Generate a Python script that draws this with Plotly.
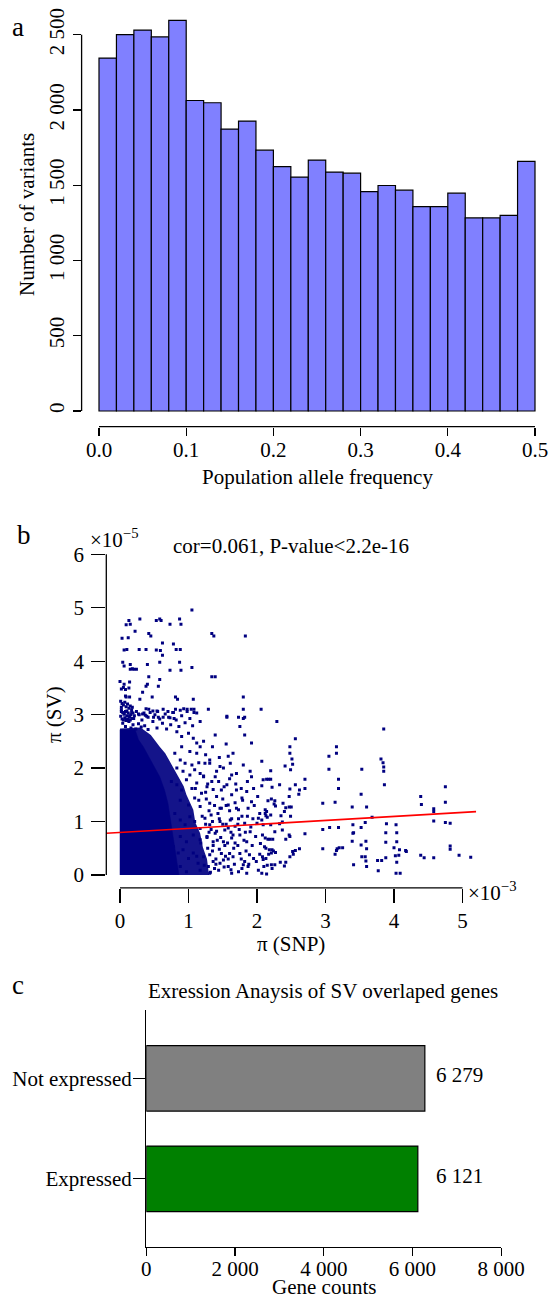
import plotly.graph_objects as go

# ---------------- Panel a : histogram of population allele frequency ----------------
bin_starts = [0.00, 0.02, 0.04, 0.06, 0.08, 0.10, 0.12, 0.14, 0.16, 0.18, 0.20, 0.22, 0.24,
              0.26, 0.28, 0.30, 0.32, 0.34, 0.36, 0.38, 0.40, 0.42, 0.44, 0.46, 0.48]
bin_width = 0.02
variant_counts = [2345, 2500, 2531, 2485, 2595, 2063, 2048, 1873, 1926, 1733, 1624, 1554, 1667,
                  1587, 1580, 1458, 1498, 1467, 1358, 1358, 1447, 1283, 1283, 1299, 1658]
hist_xticks = [0.0, 0.1, 0.2, 0.3, 0.4, 0.5]
hist_xticklabels = ["0.0", "0.1", "0.2", "0.3", "0.4", "0.5"]
hist_yticks = [0, 500, 1000, 1500, 2000, 2500]
hist_yticklabels = ["0", "500", "1 000", "1 500", "2 000", "2 500"]

# ---------------- Panel b : pi(SNP) (x 1e-3) vs pi(SV) (x 1e-5) ----------------
# saturated core of the point cloud (outline)
core_x = [0.0, 0.0, 0.22, 0.27, 0.34, 0.42, 0.51, 0.58, 0.65, 0.70, 0.73, 0.76, 0.79, 0.83, 0.86]
core_y = [0.0, 2.72, 2.72, 2.53, 2.40, 2.22, 2.00, 1.84, 1.59, 1.34, 1.09, 0.84, 0.59, 0.34, 0.0]
# very dense (nearly filled) zone around the core
halo_x = [0.0, 0.0, 0.30, 0.45, 0.58, 0.66, 0.76, 0.82, 0.93, 0.97, 1.07, 1.10, 1.17, 1.21, 1.27, 1.30]
halo_y = [0.0, 2.74, 2.76, 2.62, 2.40, 2.28, 2.05, 1.92, 1.66, 1.50, 1.22, 0.98, 0.78, 0.52, 0.30, 0.0]

# individual points
upper_x = [1.05, 0.29, 0.13, 0.09, 0.15, 0.53, 0.58, 0.60, 0.73, 0.87, 0.89, 0.22, 0.42, 0.45, 0.03,
           0.12, 1.34, 1.37, 1.83, 0.62, 0.78, 0.06, 0.10, 0.28, 0.38, 0.53, 0.59, 0.62, 0.82, 0.88,
           0.04, 0.06, 0.15, 0.40, 0.58, 0.87, 0.15, 0.18, 0.20, 0.24, 0.73, 0.89, 1.05, 0.42, 0.58,
           1.34, 1.39, 0.00, 0.06, 0.14, 0.38, 0.40, 0.56, 0.02, 0.05, 0.08, 0.13, 0.33, 0.08, 0.09,
           0.14, 0.47, 0.29, 0.81, 0.84, 1.07, 1.80, 1.29, 1.80, 2.06, 1.56, 1.73, 1.82]
upper_y = [4.96, 4.79, 4.76, 4.68, 4.69, 4.76, 4.79, 4.76, 4.69, 4.79, 4.69, 4.56, 4.52, 4.47, 4.43,
           4.44, 4.52, 4.47, 4.47, 4.34, 4.32, 4.21, 4.22, 4.22, 4.22, 4.21, 4.20, 4.11, 4.22, 4.22,
           3.98, 3.91, 3.94, 3.94, 3.98, 3.98, 3.85, 3.86, 3.85, 3.85, 3.83, 3.83, 3.88, 3.71, 3.66,
           3.71, 3.71, 3.62, 3.57, 3.61, 3.53, 3.57, 3.53, 3.48, 3.51, 3.47, 3.50, 3.42, 3.35, 3.33,
           3.33, 3.33, 3.29, 3.33, 3.29, 3.29, 3.33, 3.10, 3.10, 3.10, 2.95, 2.95, 2.95]

band_x = [0.38, 0.42, 0.48, 0.54, 0.63, 0.70, 0.77, 0.81, 0.88, 0.93, 0.98, 1.04, 1.08, 1.08,
          0.27, 0.33, 0.37, 0.41, 0.49, 0.56, 0.63, 0.73, 0.79,
          0.01, 0.03, 0.05, 0.07, 0.09, 0.11, 0.13, 0.15, 0.17, 0.18, 0.02, 0.04, 0.06, 0.08, 0.10,
          0.12, 0.14, 0.16, 0.18, 0.01, 0.03, 0.05, 0.07, 0.09, 0.11, 0.13, 0.15, 0.02, 0.19, 0.21,
          0.02, 0.06, 0.10, 0.14, 0.17, 0.20, 0.24, 0.28, 0.32, 0.35, 0.39, 0.44, 0.48, 0.51, 0.55,
          0.58, 0.62, 0.66, 0.71, 0.74, 0.78, 0.82, 0.86, 0.90, 0.95, 0.98, 1.02, 1.06, 1.12, 1.17,
          0.04, 0.08, 0.12, 0.16, 0.19, 0.23, 0.27, 0.31, 0.36, 0.41, 0.54, 0.68]
band_y = [3.11, 3.10, 3.07, 3.07, 3.10, 3.06, 3.04, 3.10, 3.08, 3.11, 3.10, 3.10, 3.10, 3.04,
          3.01, 3.01, 2.99, 2.95, 2.95, 2.95, 2.95, 2.94, 2.93,
          3.25, 3.21, 3.18, 3.23, 3.15, 3.20, 3.12, 3.16, 3.09, 3.14, 3.09, 3.04, 3.01, 3.06, 2.98,
          3.03, 2.95, 3.00, 2.93, 2.97, 2.92, 2.90, 2.94, 2.89, 2.92, 2.87, 2.90, 3.14, 3.03, 2.98,
          3.06, 3.01, 3.07, 2.98, 3.04, 2.93, 3.06, 3.00, 2.90, 3.03, 2.97, 3.04, 2.87, 3.00, 3.06,
          2.92, 2.84, 3.01, 2.95, 2.81, 3.04, 2.90, 2.78, 2.98, 2.85, 3.06, 2.93, 2.79, 3.03, 2.87,
          2.84, 2.78, 2.89, 2.75, 2.81, 2.73, 2.83, 2.77, 2.79, 2.72, 2.75, 2.73]

mid_x = [0.83, 0.90, 1.00, 1.07, 1.12, 1.17, 1.22, 0.90, 1.02, 1.12, 1.39, 1.56, 1.82, 1.92, 1.65,
         1.31, 1.46, 1.58, 1.80, 1.75,
         0.80, 0.88, 0.95, 1.05, 1.09, 1.17, 1.24, 1.31, 1.41, 1.51, 1.61, 1.70, 1.80, 1.90, 0.92,
         1.02, 1.22, 1.39, 1.63, 1.92, 0.83,
         0.75, 0.83, 0.90, 0.97, 1.05, 1.12, 1.19, 1.27, 1.34, 1.41, 1.48, 1.56, 1.63, 1.70, 1.78,
         1.85, 1.92, 0.88, 1.00, 1.09, 1.17, 1.31, 1.46, 1.58, 1.73, 1.87,
         0.80, 0.88, 0.95, 1.02, 1.09, 1.17, 1.24, 1.31, 1.39, 1.46, 1.53, 1.61, 1.68, 1.75, 1.82,
         1.90, 0.88, 0.97, 1.07, 1.17, 1.27, 1.36, 1.51, 1.63, 1.85,
         0.78, 0.85, 0.92, 1.00, 1.07, 1.14, 1.22, 1.29, 1.36, 1.44, 1.51, 1.58, 1.65, 1.73, 1.80,
         1.87, 1.95, 0.88, 0.97, 1.17, 1.31, 1.46, 1.63, 1.85,
         1.10, 1.15, 1.20, 1.25, 1.28, 1.30, 1.33, 1.35, 1.38, 1.40, 1.42, 1.45, 1.48, 1.50, 1.53,
         1.55, 1.58, 1.60, 1.62, 1.66, 1.68, 1.72, 1.75, 1.78, 1.82, 1.12, 1.18, 1.23, 1.26, 1.32]
mid_y = [2.68, 2.59, 2.65, 2.56, 2.47, 2.40, 2.50, 2.40, 2.31, 2.28, 2.62, 2.97, 2.62, 2.47, 2.28,
         2.09, 2.03, 2.22, 2.93, 2.78,
         2.28, 2.15, 2.09, 2.06, 1.97, 1.90, 2.09, 2.15, 1.94, 2.00, 2.09, 1.90, 2.06, 1.94, 1.94,
         1.87, 1.84, 1.84, 1.87, 1.84, 2.00,
         1.75, 1.69, 1.59, 1.78, 1.62, 1.72, 1.53, 1.65, 1.75, 1.47, 1.59, 1.69, 1.50, 1.59, 1.44,
         1.56, 1.37, 1.40, 1.31, 1.44, 1.28, 1.34, 1.25, 1.31, 1.22, 1.25,
         1.15, 1.03, 0.94, 1.09, 1.00, 0.87, 1.06, 0.94, 0.78, 1.00, 0.84, 1.03, 0.91, 0.75, 0.97,
         0.81, 0.72, 0.62, 0.75, 0.66, 0.72, 0.62, 0.62, 0.69, 0.62,
         0.53, 0.41, 0.47, 0.31, 0.41, 0.22, 0.34, 0.16, 0.25, 0.09, 0.28, 0.16, 0.34, 0.06, 0.19,
         0.16, 0.31, 0.16, 0.06, 0.09, 0.03, 0.22, 0.03, 0.03,
         1.62, 1.40, 1.10, 0.95, 0.50, 0.80, 1.12, 0.45, 1.30, 0.20, 0.65, 1.05, 0.40, 1.42, 0.55,
         0.95, 0.30, 1.20, 0.80, 0.50, 1.35, 0.95, 0.40, 1.10, 0.25, 0.35, 0.60, 0.18, 1.42, 0.05]

fringe_x = [1.25, 1.30, 1.33, 1.36, 1.40, 1.43, 1.47, 1.50, 1.52, 1.55, 1.57, 1.60, 1.63, 1.65, 1.67,
            1.70, 1.72, 1.74, 1.77, 1.79, 1.81, 1.84, 1.86, 1.88, 1.91, 1.93, 1.96, 1.98, 1.27, 1.31,
            1.35, 1.38, 1.41, 1.45, 1.48, 1.54, 1.58, 1.62, 1.68, 1.73, 1.78, 1.83, 1.89, 1.94, 1.99,
            1.22, 1.28, 1.36, 1.44, 1.52, 1.60, 1.69, 1.77, 1.86, 1.95, 1.15, 1.25, 1.35, 1.45, 1.55]
fringe_y = [1.55, 1.20, 0.85, 0.55, 0.30, 1.15, 0.70, 0.95, 0.15, 1.30, 0.60, 0.40, 1.05, 0.75, 0.20,
            1.25, 0.55, 0.85, 0.30, 1.40, 0.65, 0.45, 1.10, 0.20, 0.90, 0.55, 1.30, 0.72, 0.70, 0.38,
            1.00, 0.12, 0.82, 0.48, 1.25, 0.35, 0.88, 0.10, 0.60, 1.05, 0.12, 0.80, 0.38, 1.05, 0.25,
            1.85, 1.70, 1.60, 1.75, 1.65, 1.80, 1.70, 1.62, 1.75, 1.62, 2.10, 2.25, 2.40, 2.20, 2.45]

near_x = [2.29, 2.56, 2.48, 2.48, 2.51, 2.52, 2.49, 2.41, 2.07, 2.20,
          2.09, 2.14, 2.17, 2.20, 2.07, 2.22, 2.33, 2.56, 2.62, 2.70, 2.70,
          2.48, 2.61, 2.47, 2.01, 2.16, 2.21, 2.26, 2.27, 2.25,
          2.38, 2.42, 2.47, 2.40, 2.49, 2.50, 2.12, 2.14, 2.12, 2.13, 2.15,
          2.04, 2.02, 2.07, 2.09, 2.00, 2.20, 2.35, 2.20, 2.33, 2.37,
          2.26, 2.37, 2.47, 2.48, 2.42, 2.70,
          2.08, 2.12, 2.16, 2.19, 2.23, 2.05, 2.11, 2.13, 2.18, 2.22, 2.24, 2.27, 2.21, 2.17, 2.08,
          2.09, 2.04, 2.13, 2.21, 2.26, 2.15, 2.10, 2.22, 2.14, 2.02, 2.07,
          2.34, 2.42, 2.40, 2.52, 2.56, 2.62, 2.48, 2.53]
near_y = [2.87, 2.55, 2.40, 2.28, 2.17, 2.07, 1.97, 2.04, 2.13, 1.95,
          1.78, 1.79, 1.79, 1.79, 1.67, 1.64, 1.69, 1.69, 1.59, 1.79, 1.62,
          1.61, 1.51, 1.47, 1.47, 1.39, 1.42, 1.39, 1.29, 1.33,
          1.34, 1.26, 1.27, 1.19, 1.10, 1.27, 1.22, 1.19, 1.15, 1.11, 1.08,
          1.15, 1.06, 1.03, 0.94, 0.97, 1.12, 1.11, 0.94, 0.96, 0.99,
          0.81, 0.84, 0.75, 0.72, 0.67, 0.77,
          0.75, 0.69, 0.67, 0.67, 0.67, 0.59, 0.53, 0.50, 0.47, 0.47, 0.45, 0.42, 0.41, 0.39, 0.34,
          0.29, 0.39, 0.31, 0.19, 0.19, 0.18, 0.16, 0.12, 0.02, 0.09, 0.03,
          0.24, 0.24, 0.17, 0.44, 0.46, 0.49, 0.34, 0.39]

far_x = [2.96, 2.96, 2.96, 3.05, 3.05, 3.06, 3.14, 3.16, 3.16, 3.19, 3.19, 3.19, 3.14, 3.16, 3.17,
         3.20, 3.25, 3.39, 3.40, 3.40, 3.41, 3.39, 3.41, 3.52, 3.53, 3.52, 3.58, 3.60, 3.52, 3.59,
         3.60, 3.53, 3.58, 3.59, 3.60, 3.68, 3.76, 3.82, 3.77, 3.81, 3.84, 3.85, 3.85, 3.86, 3.85,
         3.89, 3.88, 3.88, 3.88, 4.00, 4.04, 4.02, 4.04, 4.03, 4.09, 4.03, 4.04, 4.08, 4.17, 4.18,
         4.07, 4.39, 4.40, 4.39, 4.44, 4.58, 4.58, 4.58, 4.58, 4.75, 4.75, 4.75, 4.82, 4.82, 4.82,
         4.95, 5.12]
far_y = [1.34, 0.85, 0.49, 2.22, 1.98, 0.89, 1.36, 2.40, 2.28, 1.79, 1.62, 0.89, 0.39, 0.46, 0.49,
         0.51, 0.51, 1.27, 0.94, 0.78, 0.79, 0.63, 0.19, 1.51, 1.98, 0.89, 0.98, 1.27, 0.56, 0.63,
         0.49, 0.34, 0.34, 0.26, 0.16, 1.08, 0.27, 0.27, 0.08, 2.17, 2.10, 2.02, 1.94, 1.69, 2.73,
         0.96, 0.79, 0.61, 0.32, 0.51, 0.62, 0.36, 0.24, 0.03, 0.03, 0.94, 0.79, 0.47, 0.46, 0.44,
         0.37, 1.47, 1.32, 0.37, 0.32, 0.32, 1.24, 1.19, 1.01, 1.65, 1.36, 0.98, 0.97, 0.54, 0.48,
         0.37, 0.33]

fit_intercept = 0.795   # x 1e-5
fit_slope = 0.075       # (x 1e-5) per (x 1e-3)
scatter_xticks = [0, 1, 2, 3, 4, 5]
scatter_yticks = [0, 1, 2, 3, 4, 5, 6]
cor_text = "cor=0.061, P-value<2.2e-16"

# ---------------- Panel c : expression of SV-overlapped genes ----------------
expr_categories = ["Expressed", "Not expressed"]
gene_counts = [6121, 6279]
bar_colors = ["#008000", "#808080"]
bar_xticks = [0, 2000, 4000, 6000, 8000]
bar_xticklabels = ["0", "2 000", "4 000", "6 000", "8 000"]

# ------------------------------------------------------------------
W, H = 549, 1299
FONT = "Liberation Serif"
FS = 21
NAVY = "#000080"


def fx(p):
    """screen pixel -> paper fraction (horizontal)"""
    return p / W


def fy(p):
    """screen pixel -> paper fraction (vertical)"""
    return 1 - p / H


pts_x = upper_x + band_x + mid_x + fringe_x + near_x + far_x
pts_y = upper_y + band_y + mid_y + fringe_y + near_y + far_y
assert len(pts_x) == len(pts_y)
assert len(bin_starts) == len(variant_counts)

fig = go.Figure()

# panel a
fig.add_trace(go.Bar(
    x=[s + bin_width / 2 for s in bin_starts], y=variant_counts, width=bin_width,
    marker=dict(color="#8080FF", line=dict(color="black", width=1.2)),
    xaxis="x", yaxis="y", hoverinfo="skip"))

# panel b
fig.add_trace(go.Scatter(x=halo_x, y=halo_y, fill="toself", mode="lines",
                         line=dict(width=0), fillcolor="rgba(0,0,128,0.92)",
                         xaxis="x2", yaxis="y2", hoverinfo="skip"))
fig.add_trace(go.Scatter(x=core_x, y=core_y, fill="toself", mode="lines",
                         line=dict(width=0.5, color=NAVY), fillcolor=NAVY,
                         xaxis="x2", yaxis="y2", hoverinfo="skip"))
fig.add_trace(go.Scatter(x=pts_x, y=pts_y, mode="markers",
                         marker=dict(symbol="square", size=3, color=NAVY, line=dict(width=0)),
                         xaxis="x2", yaxis="y2", hoverinfo="skip"))
x_rng_b = [-0.2, 5.2]
fig.add_trace(go.Scatter(x=x_rng_b, y=[fit_intercept + fit_slope * v for v in x_rng_b],
                         mode="lines", line=dict(color="red", width=1.6),
                         xaxis="x2", yaxis="y2", hoverinfo="skip"))

# panel c
fig.add_trace(go.Bar(
    y=expr_categories, x=gene_counts, orientation="h", width=0.652,
    marker=dict(color=bar_colors, line=dict(color="black", width=1.2)),
    xaxis="x3", yaxis="y3", hoverinfo="skip"))

tickfont = dict(family=FONT, size=FS, color="black")
common = dict(showgrid=False, zeroline=False, ticks="outside", tickcolor="black",
              tickwidth=1.3, tickfont=tickfont, fixedrange=True, automargin=False,
              ticklabeloverflow="allow")

# panel a scale: 0 -> x 99 px, 0.1 per 87.2 px ; y: 0 at 411 px, 0.15052 px per count
a_x0, a_xs = 99.0, 872.0
a_y0, a_ys = 411.0, 0.15052
a_left, a_right, a_top, a_bot = 81.6, 545.0, 4.0, 426.65

layout = dict(
    width=W, height=H, margin=dict(l=0, r=0, t=0, b=0, pad=0, autoexpand=False),
    paper_bgcolor="white", plot_bgcolor="white", showlegend=False, bargap=0,
    font=dict(family=FONT, size=FS, color="black"),
    xaxis=dict(domain=[fx(a_left), fx(a_right)],
               range=[(a_left - a_x0) / a_xs, (a_right - a_x0) / a_xs], anchor="y",
               tickvals=hist_xticks, ticktext=hist_xticklabels, ticklen=8, ticklabelstandoff=-4,
               showline=False, **common),
    yaxis=dict(domain=[fy(a_bot), fy(a_top)],
               range=[(a_y0 - a_bot) / a_ys, (a_y0 - a_top) / a_ys], anchor="x",
               tickvals=hist_yticks, ticktext=hist_yticklabels, tickangle=-90, ticklen=8,
               showline=False, **common),
    xaxis2=dict(domain=[fx(106.3), fx(476.2)], range=x_rng_b, anchor="y2",
                tickvals=scatter_xticks, ticklen=14, showline=False, **common),
    yaxis2=dict(domain=[fy(887.8), fy(541.5)], range=[-0.24, 6.24], anchor="x2",
                tickvals=scatter_yticks, ticklen=14, ticklabelstandoff=3, showline=False, **common),
    xaxis3=dict(domain=[fx(146.3), fx(501.2)], range=[0, 8000], anchor="y3",
                tickvals=bar_xticks, ticktext=bar_xticklabels, ticklen=8, ticklabelstandoff=-5,
                showline=True, linecolor="black", linewidth=1.3, **common),
    yaxis3=dict(domain=[fy(1246.7), fy(1010)], range=[-0.676, 1.68], anchor="x3",
                type="category", categoryorder="array", categoryarray=expr_categories,
                ticklen=12, ticklabelstandoff=-3,
                showline=True, linecolor="black", linewidth=1.3, **common),
)
fig.update_layout(**layout)

# detached R-style axis spines (from first to last tick)
spine = dict(color="black", width=1.3)
fig.add_shape(type="line", xref="x", yref="y domain", x0=hist_xticks[0], x1=hist_xticks[-1],
              y0=0, y1=0, line=spine)
fig.add_shape(type="line", xref="x domain", yref="y", x0=0, x1=0, y0=hist_yticks[0],
              y1=hist_yticks[-1], line=spine)
fig.add_shape(type="line", xref="x2", yref="y2 domain", x0=scatter_xticks[0], x1=scatter_xticks[-1],
              y0=0, y1=0, line=spine)
fig.add_shape(type="line", xref="x2 domain", yref="y2", x0=0, x1=0, y0=scatter_yticks[0],
              y1=scatter_yticks[-1], line=spine)


def note(text, x, y, size=FS, angle=0, xanchor="center"):
    fig.add_annotation(text=text, x=fx(x), y=fy(y), xref="paper", yref="paper",
                       showarrow=False, textangle=angle, xanchor=xanchor, yanchor="middle",
                       font=dict(family=FONT, size=size, color="black"))


# panel a texts
note("a", 18, 27, size=27)
note("Number of variants", 27, 215, angle=-90)
note("Population allele frequency", 317, 477)

# panel b texts
note("b", 24, 535, size=27)
note("×10<sup>−5</sup>", 114, 538)
note(cor_text, 291, 546)
note("π (SV)", 54, 715, angle=-90)
note("×10<sup>−3</sup>", 492, 891)
note("π (SNP)", 291, 944)

# panel c texts
note("c", 18, 985, size=27)
note("Exression Anaysis of SV overlaped genes", 323, 991)
note("Gene counts", 324, 1287)
label_x = max(gene_counts) + 790
for cat, val in zip(expr_categories, gene_counts):
    fig.add_annotation(text=f"{val:,}".replace(",", " "), x=label_x, y=cat, xref="x3", yref="y3",
                       showarrow=False, xanchor="center", yanchor="middle", yshift=3,
                       font=dict(family=FONT, size=FS, color="black"))

fig.write_html("out.html", config={"displayModeBar": False, "staticPlot": True},
               post_script="document.body.style.margin='0';document.body.style.overflow='hidden';")
